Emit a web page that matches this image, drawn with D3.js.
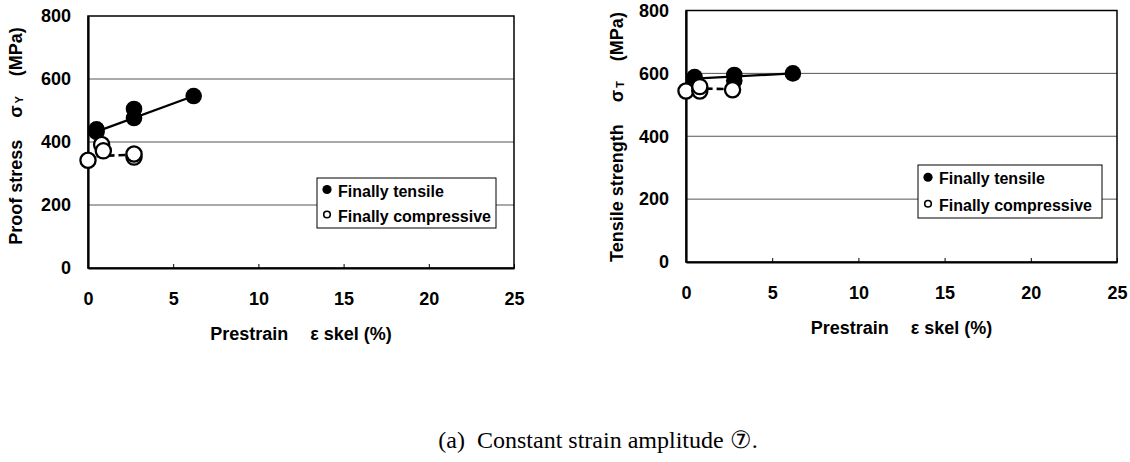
<!DOCTYPE html>
<html lang="en">
<head>
<meta charset="utf-8">
<title>Proof stress and tensile strength vs prestrain</title>
<script src="https://cdn.jsdelivr.net/npm/d3@7"></script>
<style>
	body { margin: 0; background: #fff; }
	svg text { font-family: "Liberation Sans", Arial, sans-serif; font-weight: bold; fill: #000; }
	svg text.caption { font-family: "Liberation Serif", "Times New Roman", serif; font-weight: normal; }
</style>
</head>
<body>
<script>

// axis ticks and legend
var xTicks = [0, 5, 10, 15, 20, 25];
var yTicks = [0, 200, 400, 600, 800];
var legendLabels = ["Finally tensile", "Finally compressive"];

// left: proof stress sigma_Y (MPa)
var proofTensX = [0.5, 0.5, 2.7, 2.7, 6.2];
var proofTensY = [432, 440, 476, 505, 546];
var proofCompX = [0, 0.8, 0.9, 2.7, 2.7];
var proofCompY = [342, 392, 372, 352, 362];
var proofTensFitX = [0.5, 6.2];
var proofTensFitY = [433, 546];
var proofCompFitX = [0.5, 2.7];
var proofCompFitY = [355, 360];

// right: tensile strength sigma_T (MPa)
var tensTensX = [0.5, 0.5, 2.8, 2.8, 6.2];
var tensTensY = [580, 588, 577, 595, 600];
var tensCompX = [0, 0.8, 0.8, 2.7];
var tensCompY = [544, 544, 558, 548];
var tensTensFitX = [0.5, 6.2];
var tensTensFitY = [583, 600];
var tensCompFitX = [0.5, 2.7];
var tensCompFitY = [552, 550];

var W = 1130, H = 462;

var svg = d3.select("body").append("svg")
	.attr("width", W)
	.attr("height", H);

function zip(xs, ys) {
	return xs.map(function(x, i) { return [x, ys[i]]; });
}

// layout of the two panels
var panels = [
	{ left: 88, right: 514, top: 16, bottom: 268,
	  title: ["Proof stress", "\u03C3", "Y", "(MPa)"], titleX: 22, titleY: 136,
	  legend: [317, 178, 179, 50],
	  tens: zip(proofTensX, proofTensY), comp: zip(proofCompX, proofCompY),
	  tensFit: zip(proofTensFitX, proofTensFitY), compFit: zip(proofCompFitX, proofCompFitY) },
	{ left: 686, right: 1117, top: 10.5, bottom: 262,
	  title: ["Tensile strength", "\u03C3", "T", "(MPa)"], titleX: 623, titleY: 137,
	  legend: [918, 165, 184, 53],
	  tens: zip(tensTensX, tensTensY), comp: zip(tensCompX, tensCompY),
	  tensFit: zip(tensTensFitX, tensTensFitY), compFit: zip(tensCompFitX, tensCompFitY) }
];

panels.forEach(function(p) {
	var x = d3.scaleLinear().domain([0, 25]).range([p.left, p.right]);
	var y = d3.scaleLinear().domain([0, 800]).range([p.bottom, p.top]);
	var g = svg.append("g");

	// gridlines
	g.selectAll("line.grid")
		.data(yTicks.slice(1, -1))
		.enter().append("line")
		.attr("class", "grid")
		.attr("x1", p.left).attr("x2", p.right)
		.attr("y1", function(d) { return y(d); })
		.attr("y2", function(d) { return y(d); })
		.attr("stroke", "#555")
		.attr("stroke-width", 1);

	// frame
	g.append("rect")
		.attr("x", p.left).attr("y", p.top)
		.attr("width", p.right - p.left).attr("height", p.bottom - p.top)
		.attr("fill", "none")
		.attr("stroke", "#000")
		.attr("stroke-width", 1.5);

	// axes (inner ticks on x, none on y)
	var xAxis = d3.axisBottom(x).tickValues(xTicks).tickSizeInner(-4).tickSizeOuter(0).tickPadding(24);
	var gx = g.append("g")
		.attr("transform", "translate(0," + p.bottom + ")")
		.call(xAxis);
	gx.select(".domain").attr("stroke", "#000").attr("stroke-width", 2.2);
	gx.selectAll("text").attr("font-size", 18).attr("font-family", null);

	var yAxis = d3.axisLeft(y).tickValues(yTicks).tickSize(0).tickPadding(17);
	var gy = g.append("g")
		.attr("transform", "translate(" + p.left + ",0)")
		.call(yAxis);
	gy.select(".domain").attr("stroke", "#000").attr("stroke-width", 2.2);
	gy.selectAll("text").attr("font-size", 18).attr("font-family", null);

	// fit lines
	var line = d3.line()
		.x(function(d) { return x(d[0]); })
		.y(function(d) { return y(d[1]); });

	g.append("path")
		.datum(p.tensFit)
		.attr("d", line)
		.attr("fill", "none")
		.attr("stroke", "#000")
		.attr("stroke-width", 2.2);

	g.append("path")
		.datum(p.compFit)
		.attr("d", line)
		.attr("fill", "none")
		.attr("stroke", "#000")
		.attr("stroke-width", 2.6)
		.attr("stroke-dasharray", "7,4");

	// points: filled first, open ones on top
	g.selectAll("circle.tens")
		.data(p.tens)
		.enter().append("circle")
		.attr("class", "tens")
		.attr("cx", function(d) { return x(d[0]); })
		.attr("cy", function(d) { return y(d[1]); })
		.attr("r", 8.3)
		.attr("fill", "#000");

	g.selectAll("circle.comp")
		.data(p.comp)
		.enter().append("circle")
		.attr("class", "comp")
		.attr("cx", function(d) { return x(d[0]); })
		.attr("cy", function(d) { return y(d[1]); })
		.attr("r", 7.6)
		.attr("fill", "#fff")
		.attr("stroke", "#000")
		.attr("stroke-width", 2.3);

	// legend
	var L = p.legend;
	var lg = g.append("g");
	lg.append("rect")
		.attr("x", L[0]).attr("y", L[1])
		.attr("width", L[2]).attr("height", L[3])
		.attr("fill", "#fff")
		.attr("stroke", "#000")
		.attr("stroke-width", 1);
	var rowH = L[3] / 2;
	lg.selectAll("text")
		.data(legendLabels)
		.enter().append("text")
		.attr("x", L[0] + 21)
		.attr("y", function(d, i) { return L[1] + rowH * (i + 0.5) + 6; })
		.attr("font-size", 16)
		.text(function(d) { return d; });
	lg.append("circle")
		.attr("cx", L[0] + 10).attr("cy", L[1] + rowH * 0.5 - 1)
		.attr("r", 4.6).attr("fill", "#000");
	lg.append("circle")
		.attr("cx", L[0] + 10).attr("cy", L[1] + rowH * 1.5 - 1)
		.attr("r", 3.3).attr("fill", "#fff")
		.attr("stroke", "#000").attr("stroke-width", 1.6);

	// axis titles
	var xt = g.append("text")
		.attr("x", (p.left + p.right) / 2)
		.attr("y", p.bottom + 72)
		.attr("text-anchor", "middle")
		.attr("font-size", 18);
	xt.append("tspan").text("Prestrain");
	xt.append("tspan").attr("dx", 22).text("\u03B5 skel (%)");

	var yt = g.append("text")
		.attr("transform", "translate(" + p.titleX + "," + p.titleY + ") rotate(-90)")
		.attr("text-anchor", "middle")
		.attr("font-size", 18);
	yt.append("tspan").text(p.title[0]);
	yt.append("tspan").attr("dx", 22).text(p.title[1]);
	yt.append("tspan").attr("font-size", 11).attr("dx", 2).attr("dy", 1).text(p.title[2]);
	yt.append("tspan").attr("dx", 20).attr("dy", -1).text(p.title[3]);
});

// caption
var cap = svg.append("text")
	.attr("class", "caption")
	.attr("x", 598)
	.attr("y", 448)
	.attr("text-anchor", "middle")
	.attr("font-size", 24);
cap.append("tspan").text("(a)");
cap.append("tspan").attr("dx", 12).text("Constant strain amplitude \u2466.");

</script>
</body>
</html>
